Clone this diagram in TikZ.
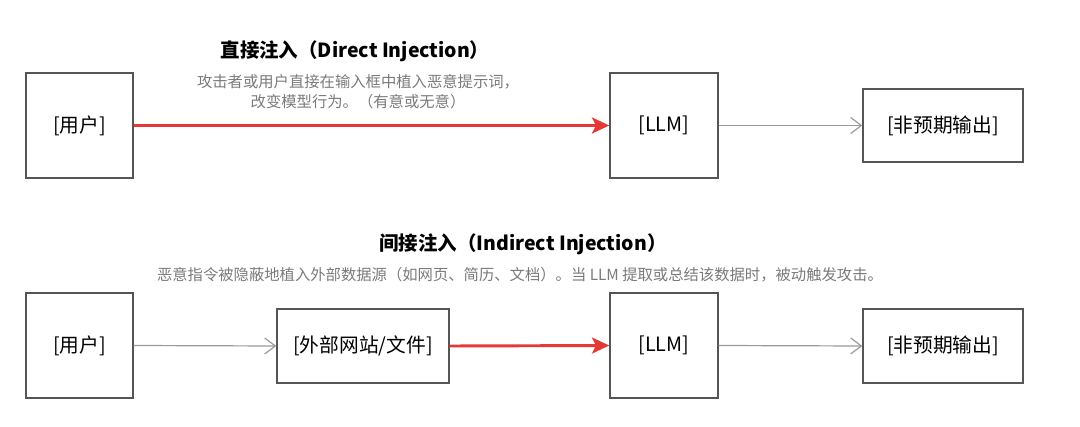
\documentclass[tikz,border=0pt]{standalone}
\usepackage{fontspec}
\setmainfont{Noto Sans CJK SC}
\usetikzlibrary{arrows.meta}
\definecolor{boxline}{HTML}{555555}
\definecolor{redline}{HTML}{E53935}
\definecolor{grayline}{HTML}{9A9A9A}
\definecolor{desc}{HTML}{7A7A7A}
\begin{document}
\begin{tikzpicture}[x=0.75pt,y=-0.75pt,
  box/.style={draw=boxline,line width=1pt,fill=white,inner sep=0pt,font=\fontsize{14.8}{17}\selectfont},
  redarrow/.style={draw=redline,line width=2.2pt,-{Stealth[length=13pt,width=12pt,inset=3pt]}},
  grayarrow/.style={draw=grayline,line width=0.9pt,-{Straight Barb[length=8pt,width=12pt]}},
  titletext/.style={font=\fontsize{14.6}{17}\selectfont\bfseries},
  desctext/.style={text=desc,font=\fontsize{11.5}{15}\selectfont,align=center}]
\useasboundingbox (0,0) rectangle (1080,427);
% top row
\node[box,minimum width=80.25pt,minimum height=78.75pt] (u1) at (79.5,125.5) {[用户]};
\node[box,minimum width=81pt,minimum height=78.75pt] (l1) at (664,125.5) {[LLM]};
\node[box,minimum width=120pt,minimum height=54.75pt] (o1) at (943,125.5) {[非预期输出]};
\node[titletext] (t1) at (355,51) {直接注入（Direct Injection）};
\node[desctext] (d1) at (358,92) {攻击者或用户直接在输入框中植入恶意提示词，\\改变模型行为。（有意或无意）};
\draw[redarrow] (u1.east) -- (l1.west);
\draw[grayarrow] (l1.east) -- (o1.west);
% bottom row
\node[box,minimum width=80.25pt,minimum height=78.75pt] (u2) at (79.5,345.5) {[用户]};
\node[box,minimum width=129pt,minimum height=55.5pt] (e2) at (363,346) {[外部网站/文件]};
\node[box,minimum width=81pt,minimum height=78.75pt] (l2) at (664,345.5) {[LLM]};
\node[box,minimum width=120pt,minimum height=55.5pt] (o2) at (943,346) {[非预期输出]};
\node[titletext] (t2) at (523,244) {间接注入（Indirect Injection）};
\node[desctext] (d2) at (520,275) {恶意指令被隐蔽地植入外部数据源（如网页、简历、文档）。当 LLM 提取或总结该数据时，被动触发攻击。};
\draw[grayarrow] (u2.east) -- (e2.west);
\draw[redarrow] (e2.east) -- (l2.west);
\draw[grayarrow] (l2.east) -- (o2.west);
\end{tikzpicture}
\end{document}
